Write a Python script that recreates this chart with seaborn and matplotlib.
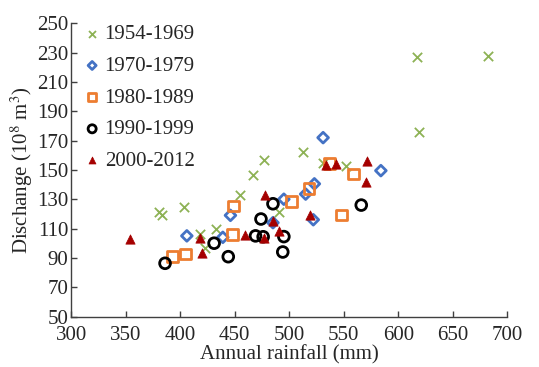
import matplotlib
matplotlib.use("Agg")
import matplotlib.pyplot as plt
import seaborn as sns

# ---- data ----
labels = ["1954-1969", "1970-1979", "1980-1989", "1990-1999", "2000-2012"]

rain_1954 = [380, 383, 403, 418, 423, 433, 455, 467, 477, 491, 513, 531, 552, 617, 682, 619]
dis_1954 = [121, 119, 124.5, 106, 97, 110, 133, 146.5, 157, 121, 162, 154.5, 153, 227, 228, 176]

rain_1970 = [406, 439, 446, 485, 495, 515, 523, 522, 531, 584]
dis_1970 = [105, 104, 119, 114, 130, 133.5, 140.5, 116, 172, 149.5]

rain_1980 = [393, 405, 448, 449, 502, 518, 537, 548, 559]
dis_1980 = [91, 92.6, 106, 125.4, 128.5, 137.5, 154.5, 119.2, 147.2]

rain_1990 = [386, 431, 444, 469, 474, 476, 485, 495, 494, 566]
dis_1990 = [86.3, 100, 90.8, 105, 116.5, 104.4, 126.9, 104.5, 94, 126]

rain_2000 = [354, 418, 420, 459, 477, 478, 485, 491, 519, 534, 543, 571, 570]
dis_2000 = [103, 103.3, 93.5, 105.6, 103.5, 133, 115, 108, 119.2, 153.3, 154, 156.3, 141.5]

x_ticks = [300, 350, 400, 450, 500, 550, 600, 650, 700]
y_ticks = [50, 70, 90, 110, 130, 150, 170, 190, 210, 230, 250]

# ---- style ----
sns.set_style("white")
plt.rcParams["font.family"] = ["Liberation Serif", "DejaVu Serif"]
plt.rcParams["mathtext.fontset"] = "stix"

fig = plt.figure(figsize=(5.39, 3.67), dpi=100)
ax = fig.add_axes([0.1323, 0.1376, 0.8089, 0.7989])

green = "#8DB255"
blue = "#4472C4"
orange = "#ED7D31"
black = "#000000"
red = "#A50000"

sns.scatterplot(x=rain_1954, y=dis_1954, ax=ax, marker="x", color=green,
                s=45, linewidth=1.3, label=labels[0])
sns.scatterplot(x=rain_1970, y=dis_1970, ax=ax, marker="D", color=blue,
                facecolor="none", edgecolor=blue, s=30, linewidth=2.0, label=labels[1])
sns.scatterplot(x=rain_1980, y=dis_1980, ax=ax, marker="s", color=orange,
                facecolor="none", edgecolor=orange, s=60, linewidth=2.0, label=labels[2])
sns.scatterplot(x=rain_1990, y=dis_1990, ax=ax, marker="o", color=black,
                facecolor="none", edgecolor=black, s=60, linewidth=2.0, label=labels[3])
sns.scatterplot(x=rain_2000, y=dis_2000, ax=ax, marker="^", color=red,
                edgecolor=red, s=45, linewidth=0.5, label=labels[4])

ax.set_xlim(300, 700)
ax.set_ylim(50, 250)
ax.set_xticks(x_ticks)
ax.set_yticks(y_ticks)

for side in ["top", "right"]:
    ax.spines[side].set_visible(False)
for side in ["left", "bottom"]:
    ax.spines[side].set_color("#404040")
    ax.spines[side].set_linewidth(1.0)

ax.tick_params(axis="both", direction="in", length=4, width=1.0,
               color="#404040", labelsize=15, left=True, bottom=True)
ax.tick_params(axis="x", pad=7)
ax.tick_params(axis="y", pad=2)

ax.set_xlabel("Annual rainfall (mm)", fontsize=15, labelpad=0)
ax.set_ylabel("Dischange (10$^8$ m$^3$)", fontsize=15, labelpad=2)

leg = ax.legend(loc="upper left", bbox_to_anchor=(0.0, 1.045), frameon=False,
                fontsize=15, markerscale=0.75, handlelength=0.6,
                handletextpad=0.3, labelspacing=0.58, borderpad=0.2)

fig.savefig("out.png", dpi=100)
